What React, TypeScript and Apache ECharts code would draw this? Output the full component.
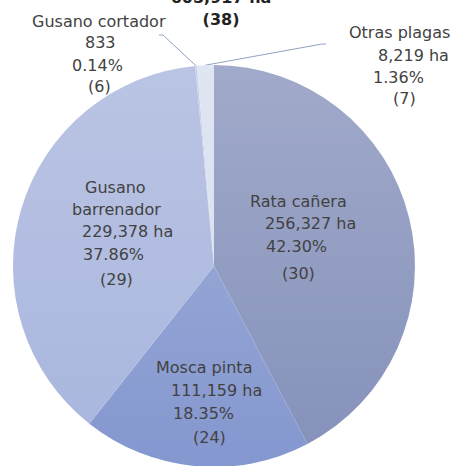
import React, { useEffect, useRef } from "react";
import * as echarts from "echarts";

// ---- data ----
const categories = ["Rata cañera", "Mosca pinta", "Gusano\nbarrenador", "Gusano cortador", "Otras plagas"];
const areas = [256327, 111159, 229378, 833, 8219];
const areaLabels = ["256,327 ha", "111,159 ha", "229,378 ha", "833", "8,219 ha"];
const percentLabels = ["42.30%", "18.35%", "37.86%", "0.14%", "1.36%"];
const counts = [30, 24, 29, 6, 7];
const totalArea = "605,917 ha";
const totalCount = 38;

// ---- styling / layout ----
const sliceColors: [string, string][] = [
  ["#a1aaca", "#8692bb"],
  ["#93a4d4", "#8497cf"],
  ["#bac4e4", "#aab7de"],
  ["#c9d1ea", "#c9d1ea"],
  ["#e0e5f2", "#dbe1f0"],
];
const labelPos: [number, number][] = [
  [250, 190],
  [156, 356],
  [72, 176],
  [32, 10],
  [349, 21],
];
const indents: number[][] = [
  [0, 15, 16, 32],
  [0, 15, 17, 37],
  [13, 0, 10, 11, 28],
  [0, 53, 40, 56],
  [0, 29, 24, 44],
];
const lineHeights: number[][] = [
  [22, 22, 24, 30],
  [22, 24, 22, 26],
  [22, 22, 22, 24, 26],
  [22, 20, 26, 16],
  [22, 24, 20, 22],
];
const CX = 214;
const CY = 266;
const R = 201;
const FONT = '"DejaVu Sans", "Noto Sans", sans-serif';

export default function App() {
  const ref = useRef<HTMLDivElement>(null);
  useEffect(() => {
    if (!ref.current) return;
    const chart = echarts.init(ref.current, undefined, { renderer: "svg" });
    const total = areas.reduce((a, b) => a + b, 0);

    const data = areas.map((v, i) => {
      const lines = [...categories[i].split("\n"), areaLabels[i], percentLabels[i], `(${counts[i]})`];
      const rich: Record<string, any> = {};
      const text = lines
        .map((ln, k) => {
          rich[`l${k}`] = {
            padding: [0, 0, 0, indents[i][k] || 0],
            lineHeight: lineHeights[i][k] || 22,
            fontSize: 16,
            color: "#424242",
            fontFamily: FONT,
          };
          return `{l${k}|${ln}}`;
        })
        .join("\n");
      const small = i >= 3;
      return {
        value: v,
        name: categories[i],
        itemStyle: {
          color: new echarts.graphic.LinearGradient(0, 0, 0, 1, [
            { offset: 0, color: sliceColors[i][0] },
            { offset: 1, color: sliceColors[i][1] },
          ]),
        },
        label: { formatter: text, rich },
        labelLine: { show: small, lineStyle: { color: "#90a2c0", width: 1 } },
      };
    });

    const cum: number[] = [];
    let acc = 0;
    areas.forEach((v) => {
      cum.push(acc + v / 2);
      acc += v;
    });
    const anchor = (i: number) => {
      const a = (cum[i] / total) * Math.PI * 2;
      return [CX + R * Math.sin(a), CY - R * Math.cos(a)];
    };
    const linePts: Record<number, number[][]> = {
      3: [anchor(3), [163, 35], [159, 35]],
      4: [anchor(4), [322, 44], [326, 44]],
    };

    chart.setOption({
      animation: false,
      backgroundColor: "#ffffff",
      series: [
        {
          type: "pie",
          center: [CX, CY],
          radius: R,
          startAngle: 90,
          clockwise: true,
          avoidLabelOverlap: false,
          data,
          label: {
            show: true,
            position: "outside",
            align: "left",
            fontFamily: FONT,
            fontSize: 16,
            color: "#424242",
          },
          itemStyle: { borderWidth: 0 },
          emphasis: { disabled: true },
          labelLayout: (params: any) => {
            const i = params.dataIndex;
            const out: any = {
              x: labelPos[i][0],
              y: labelPos[i][1],
              align: "left",
              verticalAlign: "top",
            };
            if (linePts[i]) out.labelLinePoints = linePts[i];
            return out;
          },
        },
      ],
      graphic: [
        {
          type: "text",
          x: 221,
          y: -14,
          style: {
            text: `${totalArea}\n(${totalCount})`,
            textAlign: "center",
            textVerticalAlign: "top",
            fontFamily: FONT,
            fontWeight: "bold",
            fontSize: 16,
            lineHeight: 22,
            fill: "#222222",
          },
        },
      ],
    });
    return () => chart.dispose();
  }, []);
  return (
    <div
      ref={ref}
      style={{ position: "fixed", left: 0, top: 0, width: 455, height: 466 }}
    />
  );
}
